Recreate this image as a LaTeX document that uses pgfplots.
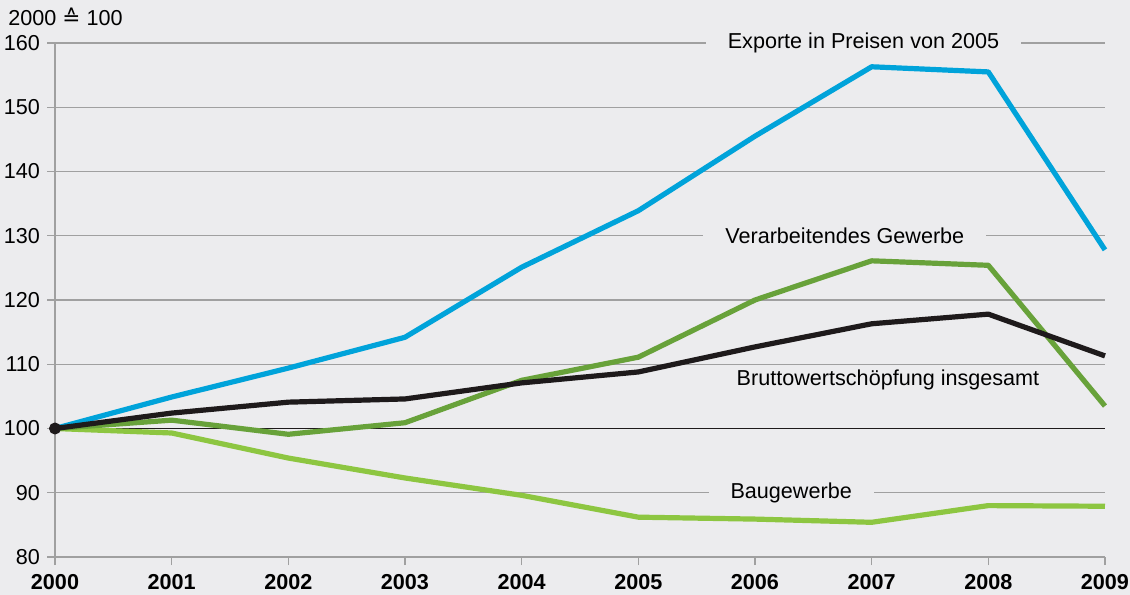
\documentclass[border=0pt]{standalone}
\usepackage{pgfplots}
\pgfplotsset{compat=1.18}
\usepackage{fontspec}
\setmainfont{Liberation Sans}
\newfontfamily\djv{DejaVu Sans}
\usetikzlibrary{backgrounds}

\definecolor{bg}{HTML}{ECECEE}
\definecolor{gridgray}{HTML}{A0A0A0}
\definecolor{expblue}{HTML}{00A3DA}
\definecolor{vgreen}{HTML}{68A23A}
\definecolor{bgreen}{HTML}{8DC641}
\definecolor{bwsblack}{HTML}{1E1A1B}

\begin{document}
\begin{tikzpicture}[font=\fontsize{10.8bp}{13bp}\selectfont]
  \begin{axis}[
    scale only axis,
    width=525bp, height=257bp,
    xmin=2000, xmax=2009,
    ymin=80, ymax=160,
    axis lines*=left,
    axis line style={gridgray, line width=0.6bp, -},
    xtick={2000,2001,...,2009},
    ytick={80,90,...,160},
    tick align=outside,
    major tick length=4bp,
    tick style={gridgray, line width=0.6bp},
    ymajorgrids=true,
    major grid style={gridgray, line width=0.6bp},
    /pgf/number format/assume math mode=true,
    /pgf/number format/1000 sep={},
    x tick label style={font=\fontsize{10.8bp}{13bp}\selectfont\bfseries, yshift=-1bp},
    y tick label style={font=\fontsize{10.8bp}{13bp}\selectfont},
    clip=false,
    line join=round,
  ]
    % Nulllinie
    \addplot[bwsblack, line width=0.8bp] coordinates {(2000,100) (2009,100)};

    % Baugewerbe
    \addplot[bgreen, line width=2.6bp] coordinates {
      (2000,100) (2001,99.3) (2002,95.4) (2003,92.3) (2004,89.6)
      (2005,86.2) (2006,85.9) (2007,85.4) (2008,88.0) (2009,87.9)};

    % Verarbeitendes Gewerbe
    \addplot[vgreen, line width=2.6bp] coordinates {
      (2000,100) (2001,101.3) (2002,99.1) (2003,100.9) (2004,107.5)
      (2005,111.1) (2006,120.0) (2007,126.1) (2008,125.4) (2009,103.5)};

    % Exporte in Preisen von 2005
    \addplot[expblue, line width=2.6bp] coordinates {
      (2000,100) (2001,104.9) (2002,109.4) (2003,114.2) (2004,125.1)
      (2005,133.9) (2006,145.5) (2007,156.3) (2008,155.5) (2009,127.8)};

    % Bruttowertschoepfung insgesamt
    \addplot[bwsblack, line width=2.6bp] coordinates {
      (2000,100) (2001,102.4) (2002,104.1) (2003,104.6) (2004,107.1)
      (2005,108.8) (2006,112.7) (2007,116.3) (2008,117.8) (2009,111.3)};

    \addplot[bwsblack, only marks, mark=*, mark size=2.8bp] coordinates {(2000,100)};

    % Beschriftungen
    \node[fill=bg, inner xsep=11bp, inner ysep=2bp] at (axis cs:2006.93,160) {Exporte in Preisen von 2005};
    \node[fill=bg, inner xsep=11bp, inner ysep=2bp] at (axis cs:2006.77,130) {Verarbeitendes Gewerbe};
    \node at (axis cs:2007.14,107.55) {Bruttowertschöpfung insgesamt};
    \node[fill=bg, inner xsep=11bp, inner ysep=2bp] at (axis cs:2006.31,90) {Baugewerbe};

    \node[anchor=west, inner sep=0pt] at ([xshift=-23.5bp, yshift=13bp]rel axis cs:0,1)
      {2000 {\djv ≙} 100};
  \end{axis}
  \begin{scope}[on background layer]
    \fill[bg] (-27.5bp,-19bp) rectangle (537.5bp,278.5bp);
  \end{scope}
  \pgfresetboundingbox
  \path[use as bounding box] (-27.5bp,-19bp) rectangle (537.5bp,278.5bp);
\end{tikzpicture}
\end{document}
